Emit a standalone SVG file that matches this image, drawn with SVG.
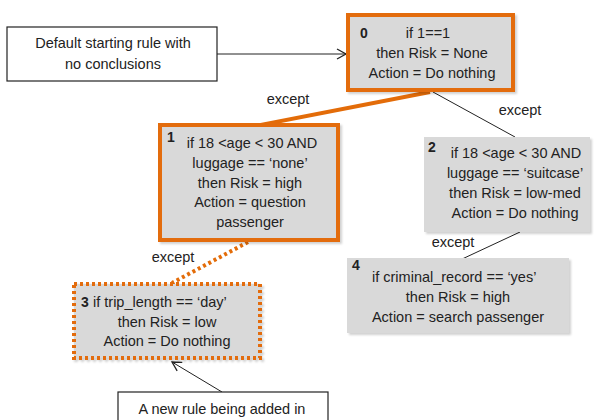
<svg xmlns="http://www.w3.org/2000/svg" width="595" height="420" viewBox="0 0 595 420">
<defs>
<marker id="open" markerWidth="12" markerHeight="12" refX="10" refY="6" orient="auto" markerUnits="userSpaceOnUse">
<path d="M1,1 L10,6 L1,11" fill="none" stroke="#222" stroke-width="1.3"/>
</marker>
<filter id="sh" x="-5%" y="-5%" width="112%" height="115%">
<feDropShadow dx="2" dy="2" stdDeviation="1.2" flood-color="#000" flood-opacity="0.18"/>
</filter>
</defs>
<style>
text{font-family:"Liberation Sans",Arial,sans-serif;font-size:14.5px;fill:#222}
.c{text-anchor:middle}
.n{font-weight:bold;font-size:14px}
.box{fill:#fff;stroke:#222;stroke-width:1.2}
.rule{fill:#d9d9d9;filter:url(#sh)}
.or{stroke:#e36c09;stroke-width:4}
.dot{stroke:#e36c09;stroke-width:4;stroke-dasharray:3 3}
</style>
<rect width="595" height="420" fill="#fff"/>
<g id="connectors" fill="none">
<line x1="217" y1="54" x2="346" y2="54" stroke="#222" stroke-width="1" marker-end="url(#open)"/>
<line x1="430" y1="92" x2="250" y2="127" class="or"/>
<line x1="433" y1="92" x2="515" y2="137" stroke="#222" stroke-width="1"/>
<line x1="520" y1="232" x2="460" y2="260" stroke="#222" stroke-width="1"/>
<line x1="248" y1="242" x2="172" y2="283" class="dot"/>
<line x1="222" y1="392" x2="172" y2="362" stroke="#222" stroke-width="1" marker-end="url(#open)"/>
<text x="288" y="104" class="c">except</text>
<text x="520" y="115" class="c">except</text>
<text x="453" y="247" class="c">except</text>
<text x="173" y="262" class="c">except</text>
</g>
<g id="default">
<rect x="7" y="27" width="210" height="54" class="box"/>
<text x="113" y="48" class="c">Default starting rule with</text>
<text x="113" y="69" class="c">no conclusions</text>
</g>
<g id="node0">
<rect x="348" y="15" width="165" height="75" class="rule or"/>
<text x="360" y="38" class="n">0</text>
<text x="428" y="38" class="c">if 1==1</text>
<text x="432" y="58" class="c">then Risk = None</text>
<text x="432" y="78" class="c">Action = Do nothing</text>
</g>
<g id="node1">
<rect x="160" y="125" width="178" height="115" class="rule or"/>
<text x="167" y="142" class="n">1</text>
<text x="252" y="148" class="c">if  18 &lt;age &lt; 30 AND</text>
<text x="250" y="168" class="c">luggage == ‘none’</text>
<text x="250" y="188" class="c">then Risk = high</text>
<text x="250" y="207" class="c">Action = question</text>
<text x="250" y="227" class="c">passenger</text>
</g>
<g id="node2">
<rect x="424" y="137" width="166" height="95" class="rule"/>
<text x="428" y="152" class="n">2</text>
<text x="516" y="158" class="c">if 18 &lt;age &lt; 30  AND</text>
<text x="515" y="178" class="c">luggage == ‘suitcase’</text>
<text x="515" y="198" class="c">then Risk = low-med</text>
<text x="515" y="218" class="c">Action = Do nothing</text>
</g>
<g id="node3">
<rect x="74" y="284" width="186" height="74" class="rule dot"/>
<text x="81" y="307" class="n">3</text>
<text x="93" y="307">if  trip_length == ‘day’</text>
<text x="167" y="327" class="c">then Risk = low</text>
<text x="167" y="346" class="c">Action = Do nothing</text>
</g>
<g id="node4">
<rect x="347" y="258" width="222" height="75" class="rule"/>
<text x="352" y="270" class="n">4</text>
<text x="372" y="282">if  criminal_record == ‘yes’</text>
<text x="458" y="302" class="c">then Risk = high</text>
<text x="458" y="322" class="c">Action = search passenger</text>
</g>
<g id="note">
<rect x="118" y="392" width="210" height="40" class="box"/>
<text x="222" y="414" class="c">A new rule being added in</text>
</g>
</svg>
